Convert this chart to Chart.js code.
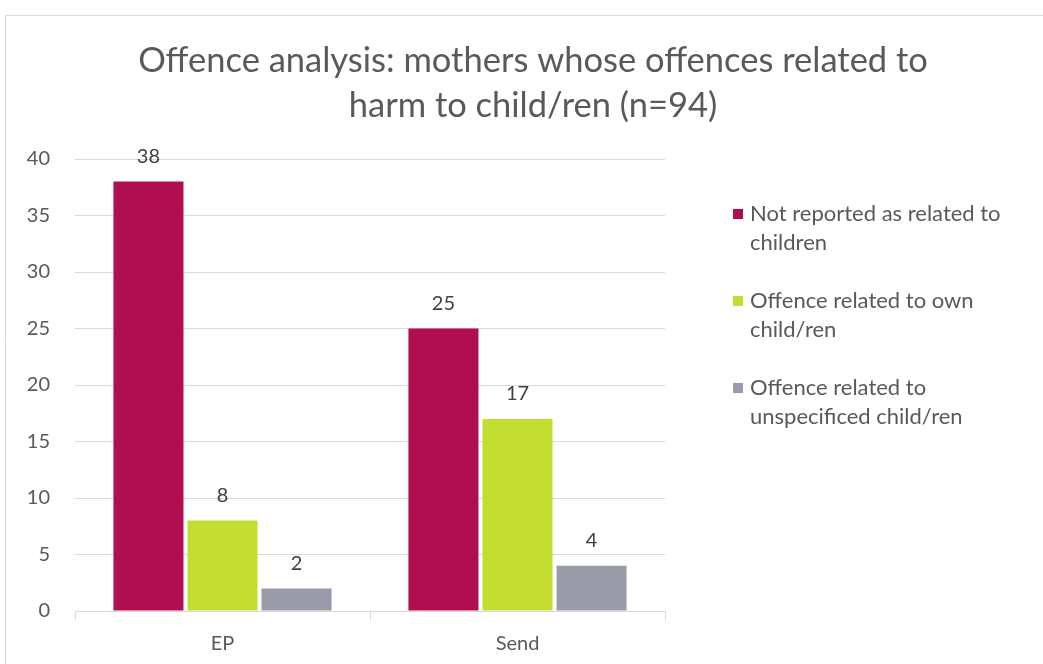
<!DOCTYPE html>
<html lang="en">
<head>
  <meta charset="UTF-8">
  <title>Offence analysis</title>
  <script src="https://cdn.jsdelivr.net/npm/chart.js"></script>
  <style>
    html, body { margin: 0; padding: 0; background: #ffffff; }
    #wrap { position: relative; width: 1043px; height: 664px; }
  </style>
</head>
<body>
  <div id="wrap">
    <canvas id="chart" width="1043" height="664"></canvas>
  </div>

  <script>
  // data
  const titleLines = ['Offence analysis: mothers whose offences related to', 'harm to child/ren (n=94)'];
  const categories = ['EP', 'Send'];
  const seriesNames = [
    ['Not reported as related to', 'children'],
    ['Offence related to own', 'child/ren'],
    ['Offence related to', 'unspecificed child/ren']
  ];
  const notRelated = [38, 25];
  const ownChild = [8, 17];
  const unspecified = [2, 4];
  const yTicks = [0, 5, 10, 15, 20, 25, 30, 35, 40];

  const colours = ['#AF0F50', '#C3DE31', '#9A9BA8'];
  const textGrey = '#595959';
  const fontFamily = 'Lato, "Open Sans", sans-serif';

  // title, outer frame and right-hand legend
  const frameTitleLegend = {
    id: 'frameTitleLegend',
    beforeDraw(chart) {
      const c = chart.ctx;
      c.save();
      c.strokeStyle = '#d9d9d9';
      c.lineWidth = 1;
      c.beginPath();
      c.moveTo(5.5, 700);
      c.lineTo(5.5, 15.5);
      c.lineTo(1100, 15.5);
      c.stroke();
      c.restore();
    },
    afterDraw(chart) {
      const c = chart.ctx;
      c.save();
      c.fillStyle = textGrey;
      c.font = '34.5px ' + fontFamily;
      c.textAlign = 'center';
      c.textBaseline = 'middle';
      titleLines.forEach((t, i) => c.fillText(t, 533, 61 + i * 45));

      c.font = '22px ' + fontFamily;
      c.textAlign = 'left';
      seriesNames.forEach((lines, i) => {
        const top = 214 + i * 87;
        c.fillStyle = colours[i];
        c.fillRect(733, top - 5, 10, 10);
        c.fillStyle = textGrey;
        lines.forEach((l, j) => c.fillText(l, 750, top + j * 29));
      });
      c.restore();
    }
  };

  // value labels above the bars
  const valueLabels = {
    id: 'valueLabels',
    afterDatasetsDraw(chart) {
      const c = chart.ctx;
      c.save();
      c.fillStyle = '#404040';
      c.font = '20px ' + fontFamily;
      c.textAlign = 'center';
      c.textBaseline = 'middle';
      chart.data.datasets.forEach((ds, i) => {
        chart.getDatasetMeta(i).data.forEach((bar, j) => {
          c.fillText(ds.data[j], bar.x, bar.y - 25);
        });
      });
      c.restore();
    }
  };

  const ctx = document.getElementById('chart').getContext('2d');
  const chart = new Chart(ctx, {
    type: 'bar',
    data: {
      labels: categories,
      datasets: [
        { label: seriesNames[0].join(' '), data: notRelated, backgroundColor: colours[0] },
        { label: seriesNames[1].join(' '), data: ownChild, backgroundColor: colours[1] },
        { label: seriesNames[2].join(' '), data: unspecified, backgroundColor: colours[2] }
      ]
    },
    options: {
      responsive: false,
      animation: false,
      events: [],
      datasets: {
        bar: { barPercentage: 0.946, categoryPercentage: 0.753 }
      },
      layout: { padding: { top: 159, right: 378, left: 0, bottom: 0 } },
      scales: {
        x: {
          afterFit(s) { s.height = 53; },
          grid: { offset: true, drawOnChartArea: false, color: '#d9d9d9', tickLength: 9 },
          border: { display: true, color: '#d9d9d9' },
          ticks: { color: textGrey, font: { size: 20, family: fontFamily }, padding: 12 }
        },
        y: {
          min: 0,
          max: 40,
          afterFit(s) { s.width = 75; },
          afterBuildTicks(s) { s.ticks = yTicks.map(v => ({ value: v })); },
          grid: { color: '#d9d9d9', drawTicks: false },
          border: { display: false },
          ticks: { color: textGrey, font: { size: 20, family: fontFamily }, padding: 25 }
        }
      },
      plugins: {
        legend: { display: false },
        title: { display: false },
        tooltip: { enabled: false }
      }
    },
    plugins: [frameTitleLegend, valueLabels]
  });
  </script>
</body>
</html>
